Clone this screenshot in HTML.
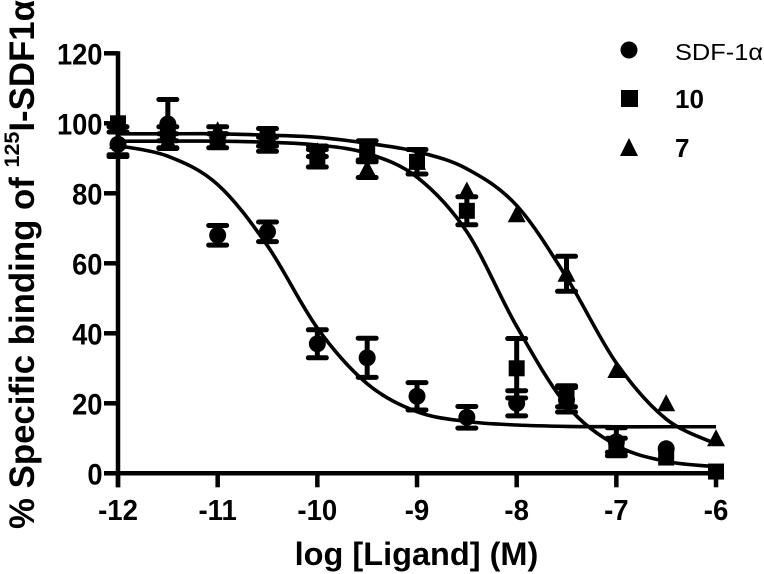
<!DOCTYPE html>
<html>
<head>
<meta charset="utf-8">
<style>
html,body{margin:0;padding:0;background:#fff;}
svg{display:block;font-family:"Liberation Sans",sans-serif;}
</style>
</head>
<body>
<svg id="chart" width="764" height="574" viewBox="0 0 764 574" xmlns="http://www.w3.org/2000/svg">
<rect width="764" height="574" fill="#fff"/>
<g id="curves"></g>
<g id="errors"></g>
<g id="points"></g>
<g id="axes"></g>
<text x="416.5" y="565" text-anchor="middle" font-size="32.5" font-weight="bold" fill="#000">log [Ligand] (M)</text>
<text transform="translate(34,529) rotate(-90)" font-size="34.8" font-weight="bold" fill="#000">% Specific binding of <tspan font-size="21.5" dy="-15">125</tspan><tspan dy="15">I-SDF1α</tspan></text>
<g>
<circle cx="629" cy="50" r="8.5" fill="#000"/>
<text x="675" y="60" font-size="23" fill="#000" textLength="88" lengthAdjust="spacingAndGlyphs">SDF-1α</text>
<rect x="621" y="90" width="17" height="17" fill="#000"/>
<text x="675" y="108" font-size="26" font-weight="bold" fill="#000">10</text>
<polygon points="629,138 638,156 620,156" fill="#000"/>
<text x="675" y="157" font-size="26" font-weight="bold" fill="#000">7</text>
</g>
</svg>
<script>
const xTicks = [-12, -11, -10, -9, -8, -7, -6];
const yTicks = [0, 20, 40, 60, 80, 100, 120];
const doses = [-12, -11.5, -11, -10.5, -10, -9.5, -9, -8.5, -8, -7.5, -7, -6.5, -6];
const sdfMeans = [94, 99.8, 68, 69, 37, 33, 22, 16, 20, 21, 9, 7, null];
const sdfErrors = [3.5, 7, 2.8, 2.8, 4, 5.6, 3.9, 3.1, 3.6, 3.5, 4, 0, 0];
const cmpd10Means = [100, 97, 95, 96, 90, 92, 89, 75, 30, 22, 8, 4.5, 0.5];
const cmpd10Errors = [0, 2, 2, 2.5, 2.5, 3, 3.5, 4, 8.5, 3, 2, 0, 0];
const cmpd7Means = [95, 95, 98, 94, 92, 87, 89, 80.8, 74, 57, 29.5, 20, 10];
const cmpd7Errors = [4, 2, 1, 2, 1.5, 2.5, 0, 0, 0, 5, 0, 0, 0];
const sdfCurve = [93.6, 90.6, 82.5, 65, 41.5, 25.6, 17.6, 14.8, 13.8, 13.4, 13.3, 13.3, 13.3];
const cmpd10Curve = [94.9, 94.9, 94.9, 94.6, 93.8, 91.4, 84.6, 69, 42, 19.5, 8, 3.4, 1.9];
const cmpd7Curve = [97, 97, 97, 96.6, 96, 94.3, 91.9, 87, 76.5, 56, 31.5, 15.5, 8.4];

const NS = 'http://www.w3.org/2000/svg';
function sx(v) { return 118 + (v + 12) * 99.67; }
function sy(v) { return 473.3 - v * 3.5; }
function mk(tag, parent, attrs) {
  const el = document.createElementNS(NS, tag);
  for (const k in attrs) el.setAttribute(k, attrs[k]);
  document.getElementById(parent).appendChild(el);
  return el;
}
function smoothPath(xs, ys) {
  const p = xs.map((x, i) => [sx(x), sy(ys[i])]);
  let d = 'M' + p[0][0] + ',' + p[0][1];
  for (let i = 0; i < p.length - 1; i++) {
    const a = p[Math.max(0, i - 1)], b = p[i], c = p[i + 1], e = p[Math.min(p.length - 1, i + 2)];
    d += ' C' + (b[0] + (c[0] - a[0]) / 6) + ',' + (b[1] + (c[1] - a[1]) / 6) + ' ' +
         (c[0] - (e[0] - b[0]) / 6) + ',' + (c[1] - (e[1] - b[1]) / 6) + ' ' + c[0] + ',' + c[1];
  }
  return d;
}
function squeeze(label, ratio) {
  label.setAttribute('textLength', label.getComputedTextLength() * ratio);
  label.setAttribute('lengthAdjust', 'spacingAndGlyphs');
}
function drawCurve(values) {
  const el = mk('path', 'curves', { d: smoothPath(doses, values), fill: 'none', stroke: '#000', 'stroke-width': 3.6 });
  
  
}
function drawErrors(means, errors) {
  means.forEach((m, i) => {
    if (m === null || !errors[i]) return;
    const x = sx(doses[i]), hi = sy(m + errors[i]), lo = sy(m - errors[i]);
    const el = mk('path', 'errors', {
      d: 'M' + x + ',' + hi + ' V' + lo + ' M' + (x - 9) + ',' + hi + ' H' + (x + 9) + ' M' + (x - 9) + ',' + lo + ' H' + (x + 9),
      fill: 'none', stroke: '#000', 'stroke-width': 5, 'stroke-linecap': 'round'
    });
    
    
  });
}
function drawCircles(means) {
  means.forEach((m, i) => {
    if (m === null) return;
    const el = mk('circle', 'points', { cx: sx(doses[i]), cy: sy(m), r: 8.5, fill: '#000' });
    
    
  });
}
function drawSquares(means) {
  means.forEach((m, i) => {
    const el = mk('rect', 'points', { x: sx(doses[i]) - 8, y: sy(m) - 8, width: 16, height: 16, fill: '#000' });
    
    
  });
}
function drawTriangles(means) {
  means.forEach((m, i) => {
    const x = sx(doses[i]), y = sy(m);
    const el = mk('polygon', 'points', { points: x + ',' + (y - 9) + ' ' + (x + 9) + ',' + (y + 8) + ' ' + (x - 9) + ',' + (y + 8), fill: '#000' });
    
    
  });
}
drawCurve(sdfCurve);
drawCurve(cmpd10Curve);
drawCurve(cmpd7Curve);
drawErrors(sdfMeans, sdfErrors);
drawErrors(cmpd10Means, cmpd10Errors);
drawErrors(cmpd7Means, cmpd7Errors);
drawCircles(sdfMeans);
drawSquares(cmpd10Means);
drawTriangles(cmpd7Means);

const yAxis = mk('line', 'axes', { x1: sx(-12), x2: sx(-12), y1: sy(120) - 2, y2: sy(0) + 14, stroke: '#000', 'stroke-width': 4.5 });


const xAxis = mk('line', 'axes', { x1: sx(-12) - 14, x2: sx(-6) + 2, y1: sy(0), y2: sy(0), stroke: '#000', 'stroke-width': 4.5 });


xTicks.forEach(v => {
  const tick = mk('line', 'axes', { x1: sx(v), x2: sx(v), y1: sy(0), y2: sy(0) + 14, stroke: '#000', 'stroke-width': 4.5 });
  
  
  const label = mk('text', 'axes', { x: sx(v), y: 520, 'text-anchor': 'middle', 'font-size': 29, 'font-weight': 'bold', fill: '#000' });
  label.textContent = String(v);
  
  
  squeeze(label, 0.95);
});
yTicks.forEach(v => {
  const tick = mk('line', 'axes', { x1: sx(-12) - 14, x2: sx(-12), y1: sy(v), y2: sy(v), stroke: '#000', 'stroke-width': 4.5 });
  
  
  const label = mk('text', 'axes', { x: 102.5, y: sy(v) + 11, 'text-anchor': 'end', 'font-size': 30, 'font-weight': 'bold', fill: '#000' });
  label.textContent = String(v);
  
  
  squeeze(label, 0.91);
});
</script>
</body>
</html>
